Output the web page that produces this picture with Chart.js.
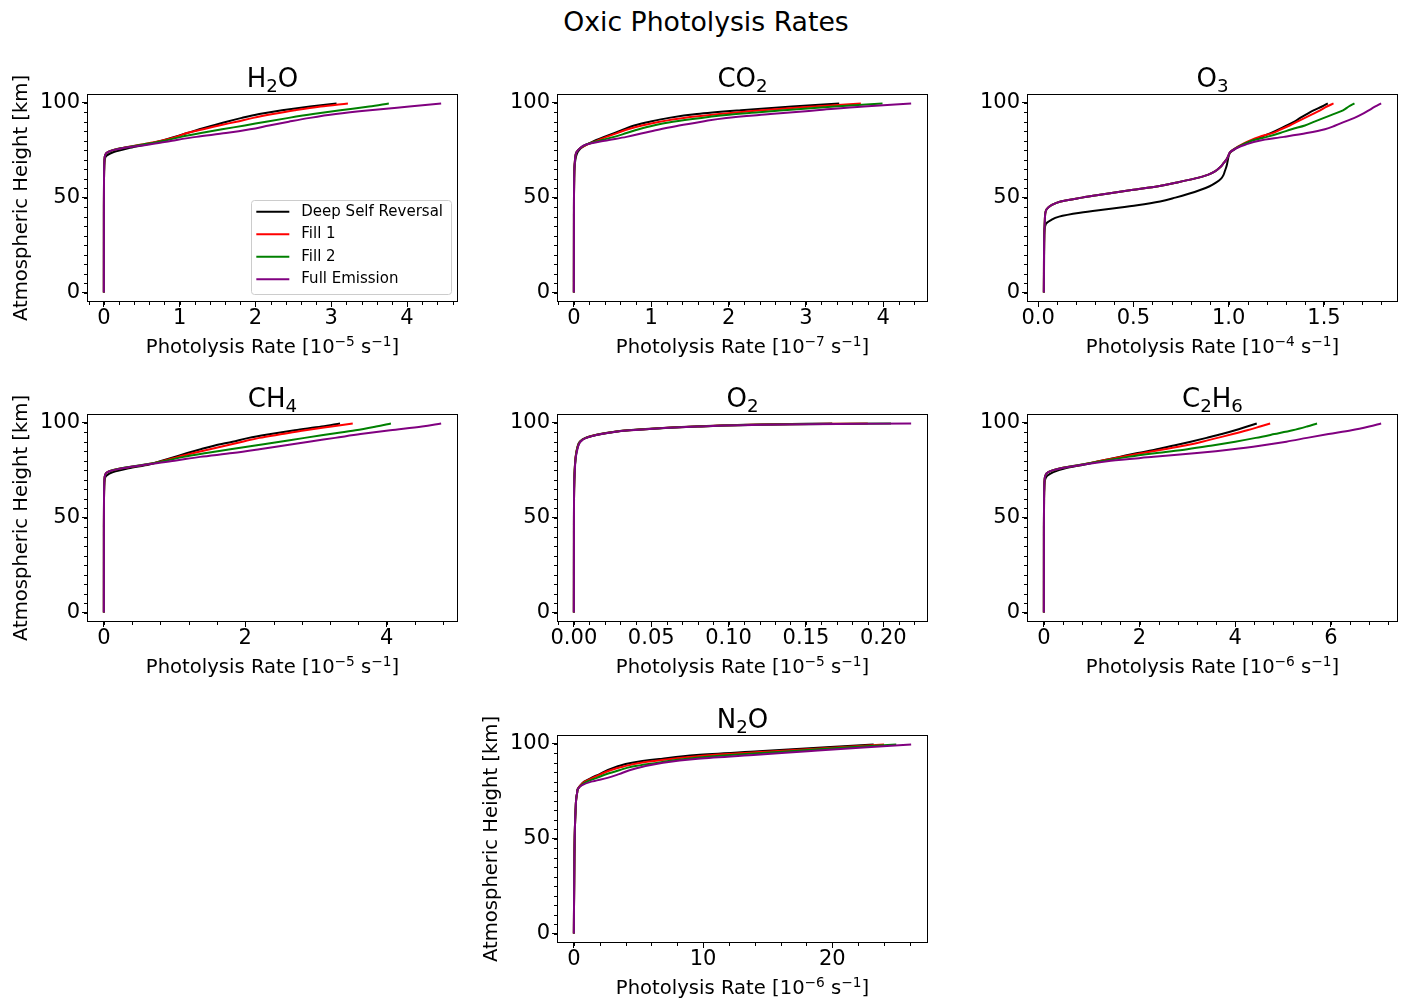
<!DOCTYPE html>
<html>
<head>
<meta charset="utf-8">
<title>Oxic Photolysis Rates</title>
<script src="https://cdn.jsdelivr.net/npm/chart.js@4.4.1/dist/chart.umd.min.js"></script>
<style>
  body { margin: 0; background: #fff; }
  #page { position: relative; width: 1408px; height: 1002px; font-family: 'DejaVu Sans', sans-serif; }
  #suptitle { position: absolute; left: 2px; width: 1408px; top: 6px; text-align: center; font-size: 26.7px; color: #000; }
  canvas { position: absolute; }
</style>
</head>
<body>
<div id="page">
  <div id="suptitle">Oxic Photolysis Rates</div>
</div>
<script>
// heights in km (shared by most panels)
var heights = [0, 40, 60, 66, 70, 72, 74, 76, 78, 80, 82, 84, 86, 88, 90, 92, 94, 96, 98, 99.6];
var o3Heights = [0, 30, 36, 38, 40, 42, 44, 46, 48, 50, 52, 54, 56, 58, 60, 62, 64, 66, 68, 70, 72, 74, 76, 78, 80, 82, 84, 86, 88, 90, 92, 94, 96, 98, 99.6];
var o2Heights = [0, 40, 60, 70, 76, 80, 84, 86, 88, 90, 92, 94, 95, 96, 97, 98, 99, 99.6];

var scenarios = ['Deep Self Reversal', 'Fill 1', 'Fill 2', 'Full Emission'];
var scenarioColors = ['#000000', '#ff0000', '#008000', '#800080'];

// rates, one row per scenario (same order as scenarios)
var h2oRates = [
    [0, 0.0005, 0.002, 0.005, 0.012, 0.035, 0.13, 0.32, 0.56, 0.76, 0.93, 1.1, 1.26, 1.44, 1.62, 1.82, 2.05, 2.35, 2.72, 3.07],
    [0, 0.0005, 0.002, 0.004, 0.008, 0.015, 0.05, 0.22, 0.5, 0.76, 0.95, 1.1, 1.31, 1.52, 1.75, 1.97, 2.23, 2.52, 2.86, 3.22],
    [0, 0.0005, 0.002, 0.004, 0.008, 0.015, 0.05, 0.22, 0.52, 0.8, 1.02, 1.28, 1.56, 1.86, 2.14, 2.44, 2.76, 3.12, 3.5, 3.76],
    [0, 0.0005, 0.002, 0.004, 0.008, 0.015, 0.05, 0.24, 0.6, 0.9, 1.22, 1.61, 1.93, 2.18, 2.44, 2.72, 3.06, 3.51, 4.03, 4.45]
];
var co2Rates = [
    [0, 0.001, 0.004, 0.008, 0.02, 0.03, 0.05, 0.09, 0.17, 0.27, 0.39, 0.52, 0.65, 0.78, 0.98, 1.23, 1.59, 2.16, 2.82, 3.43],
    [0, 0.001, 0.004, 0.008, 0.015, 0.02, 0.035, 0.08, 0.17, 0.3, 0.42, 0.56, 0.7, 0.88, 1.11, 1.42, 1.88, 2.43, 3.12, 3.71],
    [0, 0.001, 0.004, 0.008, 0.015, 0.02, 0.035, 0.08, 0.16, 0.33, 0.52, 0.68, 0.84, 1.03, 1.28, 1.65, 2.1, 2.71, 3.37, 3.99],
    [0, 0.001, 0.004, 0.008, 0.015, 0.02, 0.035, 0.08, 0.16, 0.4, 0.68, 0.9, 1.12, 1.36, 1.65, 1.97, 2.54, 3.14, 3.75, 4.36]
];
var o3Rates = [
    [0.03, 0.032, 0.04, 0.065, 0.11, 0.22, 0.37, 0.52, 0.64, 0.72, 0.79, 0.85, 0.9, 0.935, 0.96, 0.973, 0.98, 0.987, 0.992, 0.996, 1.0, 1.01, 1.04, 1.075, 1.12, 1.17, 1.22, 1.265, 1.305, 1.345, 1.375, 1.41, 1.445, 1.49, 1.52],
    [0.03, 0.032, 0.034, 0.035, 0.036, 0.038, 0.045, 0.07, 0.118, 0.23, 0.36, 0.49, 0.63, 0.73, 0.82, 0.89, 0.93, 0.955, 0.972, 0.988, 0.998, 1.008, 1.035, 1.07, 1.11, 1.16, 1.23, 1.275, 1.32, 1.36, 1.4, 1.44, 1.48, 1.515, 1.55],
    [0.03, 0.032, 0.034, 0.035, 0.036, 0.038, 0.045, 0.07, 0.118, 0.23, 0.36, 0.49, 0.63, 0.73, 0.82, 0.89, 0.93, 0.955, 0.972, 0.988, 0.998, 1.008, 1.035, 1.075, 1.12, 1.2, 1.27, 1.33, 1.4, 1.45, 1.5, 1.55, 1.6, 1.63, 1.66],
    [0.03, 0.032, 0.034, 0.035, 0.036, 0.038, 0.045, 0.07, 0.118, 0.23, 0.36, 0.49, 0.63, 0.73, 0.82, 0.89, 0.93, 0.955, 0.972, 0.988, 0.998, 1.008, 1.04, 1.09, 1.16, 1.29, 1.41, 1.505, 1.56, 1.61, 1.66, 1.7, 1.735, 1.77, 1.8]
];
var ch4Rates = [
    [0, 0.0005, 0.002, 0.005, 0.012, 0.035, 0.13, 0.35, 0.64, 0.82, 1.0, 1.18, 1.37, 1.57, 1.82, 2.05, 2.36, 2.7, 3.08, 3.34],
    [0, 0.0005, 0.002, 0.004, 0.008, 0.015, 0.05, 0.25, 0.6, 0.85, 1.05, 1.27, 1.5, 1.73, 1.96, 2.2, 2.52, 2.85, 3.22, 3.52],
    [0, 0.0005, 0.002, 0.004, 0.008, 0.015, 0.05, 0.25, 0.58, 0.88, 1.13, 1.45, 1.79, 2.14, 2.49, 2.84, 3.2, 3.56, 3.85, 4.06],
    [0, 0.0005, 0.002, 0.004, 0.008, 0.015, 0.05, 0.26, 0.6, 1.0, 1.36, 1.82, 2.2, 2.55, 2.9, 3.27, 3.63, 4.05, 4.5, 4.77]
];
var o2Rates = [
    [0, 0.00005, 0.0001, 0.0003, 0.0006, 0.0009, 0.0015, 0.002, 0.0026, 0.0038, 0.0075, 0.017, 0.024, 0.035, 0.052, 0.078, 0.12, 0.167],
    [0, 0.00005, 0.0001, 0.0003, 0.0006, 0.0009, 0.0015, 0.002, 0.0027, 0.004, 0.0077, 0.0175, 0.0245, 0.0355, 0.053, 0.079, 0.125, 0.19],
    [0, 0.00005, 0.0001, 0.0003, 0.0006, 0.001, 0.0016, 0.0021, 0.0028, 0.0041, 0.0078, 0.0178, 0.0248, 0.0358, 0.0535, 0.08, 0.13, 0.205],
    [0, 0.00005, 0.0001, 0.0003, 0.0007, 0.001, 0.0017, 0.0023, 0.003, 0.0043, 0.008, 0.018, 0.025, 0.036, 0.054, 0.08, 0.135, 0.218]
];
var c2h6Rates = [
    [0, 0.001, 0.004, 0.01, 0.025, 0.07, 0.2, 0.45, 0.85, 1.2, 1.58, 1.96, 2.36, 2.72, 3.07, 3.4, 3.72, 4.0, 4.25, 4.45],
    [0, 0.001, 0.004, 0.008, 0.015, 0.03, 0.09, 0.35, 0.8, 1.2, 1.61, 2.07, 2.52, 2.95, 3.31, 3.63, 3.95, 4.25, 4.52, 4.73],
    [0, 0.001, 0.004, 0.008, 0.015, 0.03, 0.09, 0.35, 0.8, 1.25, 1.76, 2.36, 3.0, 3.52, 4.0, 4.43, 4.82, 5.2, 5.5, 5.71],
    [0, 0.001, 0.004, 0.008, 0.015, 0.03, 0.09, 0.36, 0.85, 1.4, 2.3, 3.2, 3.95, 4.55, 5.07, 5.5, 5.95, 6.43, 6.8, 7.05]
];
var n2oRates = [
    [0, 0.04, 0.1, 0.14, 0.17, 0.2, 0.25, 0.3, 0.5, 0.8, 1.35, 2.0, 2.6, 3.35, 4.5, 6.75, 9.5, 14.3, 19.2, 23.2],
    [0, 0.04, 0.1, 0.14, 0.17, 0.2, 0.25, 0.3, 0.5, 0.85, 1.45, 2.1, 2.83, 3.85, 5.2, 7.5, 10.7, 15.5, 20.3, 24.0],
    [0, 0.04, 0.1, 0.14, 0.17, 0.2, 0.25, 0.3, 0.55, 1.0, 1.78, 2.55, 3.5, 4.55, 6.5, 8.6, 12.1, 16.7, 21.0, 24.95],
    [0, 0.04, 0.1, 0.14, 0.17, 0.2, 0.25, 0.3, 0.6, 1.35, 2.6, 3.5, 4.3, 5.4, 6.9, 9.4, 13.9, 18.1, 22.4, 26.1]
];

// tick labels
var heightTicks = [0, 50, 100];
var h2oTicks = [0, 1, 2, 3, 4];
var co2Ticks = [0, 1, 2, 3, 4];
var o3Ticks = [0.0, 0.5, 1.0, 1.5];
var ch4Ticks = [0, 2, 4];
var o2Ticks = [0.00, 0.05, 0.10, 0.15, 0.20];
var c2h6Ticks = [0, 2, 4, 6];
var n2oTicks = [0, 10, 20];

// titles use _x for subscript, ^{..} for superscript
var panels = [
    { title: 'H_2O', unit: '10^{−5}', h: heights, rates: h2oRates, ticks: h2oTicks, minor: 0.2, dec: 0, col: 0, row: 0, ylabel: true, legend: true },
    { title: 'CO_2', unit: '10^{−7}', h: heights, rates: co2Rates, ticks: co2Ticks, minor: 0.2, dec: 0, col: 1, row: 0 },
    { title: 'O_3', unit: '10^{−4}', h: o3Heights, rates: o3Rates, ticks: o3Ticks, minor: 0.1, dec: 1, col: 2, row: 0 },
    { title: 'CH_4', unit: '10^{−5}', h: heights, rates: ch4Rates, ticks: ch4Ticks, minor: 0.4, dec: 0, col: 0, row: 1, ylabel: true },
    { title: 'O_2', unit: '10^{−5}', h: o2Heights, rates: o2Rates, ticks: o2Ticks, minor: 0.01, dec: 2, col: 1, row: 1 },
    { title: 'C_2H_6', unit: '10^{−6}', h: heights, rates: c2h6Rates, ticks: c2h6Ticks, minor: 0.4, dec: 0, col: 2, row: 1 },
    { title: 'N_2O', unit: '10^{−6}', h: heights, rates: n2oRates, ticks: n2oTicks, minor: 2, dec: 0, col: 1, row: 2, ylabel: true }
];

var BOX_W = 371, BOX_H = 208;
var PAD_L = 87, PAD_T = 44, PAD_R = 14, PAD_B = 62;
var colLeft = [87, 557, 1027];
var rowTop = [94, 414, 735];
var FONT = "'DejaVu Sans', sans-serif";

Chart.defaults.font.family = FONT;
Chart.defaults.color = '#000';

function parseRich(s) {
    var out = [], cur = '', i = 0;
    while (i < s.length) {
        var c = s[i];
        if (c === '_' || c === '^') {
            if (cur) { out.push({ t: cur, k: 0 }); cur = ''; }
            var t;
            if (s[i + 1] === '{') {
                var j = s.indexOf('}', i);
                t = s.slice(i + 2, j);
                i = j + 1;
            } else {
                t = s[i + 1];
                i += 2;
            }
            out.push({ t: t, k: c === '_' ? -1 : 1 });
        } else {
            cur += c;
            i++;
        }
    }
    if (cur) out.push({ t: cur, k: 0 });
    return out;
}

function drawRich(ctx, text, size, cx, baseY) {
    var segs = parseRich(text);
    ctx.save();
    ctx.fillStyle = '#000';
    ctx.textBaseline = 'alphabetic';
    ctx.textAlign = 'left';
    var total = 0;
    segs.forEach(function (s) {
        s.size = s.k ? size * 0.7 : size;
        ctx.font = s.size + 'px ' + FONT;
        s.w = ctx.measureText(s.t).width;
        total += s.w;
    });
    var x = cx - total / 2;
    segs.forEach(function (s) {
        ctx.font = s.size + 'px ' + FONT;
        var dy = s.k === -1 ? size * 0.17 : (s.k === 1 ? -size * 0.375 : 0);
        ctx.fillText(s.t, x, baseY + dy);
        x += s.w;
    });
    ctx.restore();
}

// frame + minor ticks + panel title + x label
var framePlugin = {
    id: 'frame',
    afterDraw: function (chart, args, opts) {
        var ctx = chart.ctx, a = chart.chartArea;
        var xs = chart.scales.x, ys = chart.scales.y;
        ctx.save();
        ctx.strokeStyle = '#000';
        ctx.lineWidth = 1;
        ctx.beginPath();
        var i, px;
        for (i = Math.ceil(xs.min / opts.xMinor); i * opts.xMinor <= xs.max; i++) {
            px = Math.round(xs.getPixelForValue(i * opts.xMinor)) + 0.5;
            ctx.moveTo(px, a.bottom);
            ctx.lineTo(px, a.bottom + 3);
        }
        for (i = Math.ceil(ys.min / opts.yMinor); i * opts.yMinor <= ys.max; i++) {
            px = Math.round(ys.getPixelForValue(i * opts.yMinor)) + 0.5;
            ctx.moveTo(a.left, px);
            ctx.lineTo(a.left - 3, px);
        }
        ctx.stroke();
        ctx.strokeRect(Math.round(a.left) + 0.5, Math.round(a.top) + 0.5, Math.round(a.right - a.left) - 1, Math.round(a.bottom - a.top) - 1);
        ctx.restore();

        var cx = (a.left + a.right) / 2;
        drawRich(ctx, opts.title, 26, cx, a.top - 6.7);
        drawRich(ctx, opts.xlabel, 19.6, cx, a.bottom + 51.3);
    }
};

var boxLegendPlugin = {
    id: 'boxLegend',
    afterDraw: function (chart, args, opts) {
        if (!opts.show) return;
        var ctx = chart.ctx, a = chart.chartArea;
        var items = chart.data.datasets;
        ctx.save();
        ctx.font = '15px ' + FONT;
        var textW = 0;
        items.forEach(function (d) { textW = Math.max(textW, ctx.measureText(d.label).width); });
        var w = 5 + 33 + 12 + textW + 8;
        var h = 94;
        var x0 = a.right - 7 - w, y0 = a.bottom - 8 - h;
        ctx.fillStyle = 'rgba(255,255,255,0.8)';
        ctx.strokeStyle = '#cccccc';
        ctx.lineWidth = 1;
        ctx.beginPath();
        ctx.roundRect(Math.round(x0) + 0.5, Math.round(y0) + 0.5, Math.round(w), h, 3);
        ctx.fill();
        ctx.stroke();
        items.forEach(function (d, i) {
            var cy = y0 + 11.7 + i * 22.55;
            ctx.strokeStyle = d.borderColor;
            ctx.lineWidth = 2;
            ctx.beginPath();
            ctx.moveTo(x0 + 5, cy);
            ctx.lineTo(x0 + 38, cy);
            ctx.stroke();
            ctx.fillStyle = '#000';
            ctx.textBaseline = 'middle';
            ctx.textAlign = 'left';
            ctx.fillText(d.label, x0 + 50, cy);
        });
        ctx.restore();
    }
};

function makePanel(p) {
    var canvas = document.createElement('canvas');
    canvas.width = PAD_L + BOX_W + PAD_R;
    canvas.height = PAD_T + BOX_H + PAD_B;
    canvas.style.left = (colLeft[p.col] - PAD_L) + 'px';
    canvas.style.top = (rowTop[p.row] - PAD_T) + 'px';
    document.getElementById('page').appendChild(canvas);

    // matplotlib-like 5% margins
    var all = [].concat.apply([], p.rates);
    var xmin = Math.min.apply(null, all), xmax = Math.max.apply(null, all);
    var ymin = Math.min.apply(null, p.h), ymax = Math.max.apply(null, p.h);
    var xm = (xmax - xmin) * 0.05, ym = (ymax - ymin) * 0.05;

    var datasets = p.rates.map(function (r, i) {
        return {
            label: scenarios[i],
            data: r.map(function (v, k) { return { x: v, y: p.h[k] }; }),
            borderColor: scenarioColors[i],
            backgroundColor: scenarioColors[i],
            borderWidth: 2,
            pointRadius: 0,
            fill: false,
            cubicInterpolationMode: 'monotone',
            order: 3 - i
        };
    });

    new Chart(canvas, {
        type: 'line',
        data: { datasets: datasets },
        options: {
            indexAxis: 'y',
            responsive: false,
            animation: false,
            events: [],
            layout: { padding: { left: 0, top: PAD_T, right: PAD_R, bottom: 0 }, autoPadding: false },
            plugins: {
                legend: { display: false },
                tooltip: { enabled: false },
                title: { display: false },
                frame: {
                    xMinor: p.minor,
                    yMinor: 5,
                    title: p.title,
                    xlabel: 'Photolysis Rate [' + p.unit + ' s^{−1}]'
                },
                boxLegend: { show: !!p.legend }
            },
            scales: {
                x: {
                    type: 'linear',
                    position: 'bottom',
                    min: xmin - xm,
                    max: xmax + xm,
                    afterBuildTicks: function (s) { s.ticks = p.ticks.map(function (v) { return { value: v }; }); },
                    afterFit: function (s) { s.height = PAD_B; },
                    ticks: {
                        font: { size: 21, lineHeight: 1 },
                        padding: 1,
                        maxRotation: 0,
                        autoSkip: false,
                        color: '#000',
                        callback: function (v) { return Number(v).toFixed(p.dec); }
                    },
                    grid: { drawOnChartArea: false, drawTicks: true, tickLength: 5, tickColor: '#000', tickWidth: 1 },
                    border: { display: false },
                    title: { display: false }
                },
                y: {
                    type: 'linear',
                    position: 'left',
                    min: ymin - ym,
                    max: ymax + ym,
                    afterBuildTicks: function (s) { s.ticks = heightTicks.map(function (v) { return { value: v }; }); },
                    afterFit: function (s) { s.width = PAD_L; },
                    ticks: {
                        font: { size: 21, lineHeight: 1 },
                        padding: 2,
                        autoSkip: false,
                        color: '#000',
                        callback: function (v) { return Number(v).toFixed(0); }
                    },
                    grid: { drawOnChartArea: false, drawTicks: true, tickLength: 5, tickColor: '#000', tickWidth: 1 },
                    border: { display: false },
                    title: {
                        display: !!p.ylabel,
                        text: 'Atmospheric Height [km]',
                        color: '#000',
                        font: { size: 19.6, lineHeight: 1 },
                        padding: { top: 12.5, bottom: 0 }
                    }
                }
            }
        },
        plugins: [framePlugin, boxLegendPlugin]
    });
}

panels.forEach(makePanel);
</script>
</body>
</html>
